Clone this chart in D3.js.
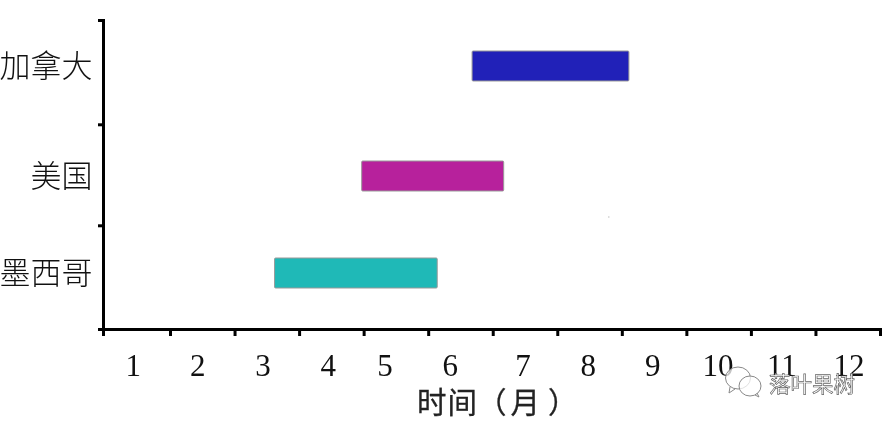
<!DOCTYPE html>
<html><head><meta charset="utf-8">
<script src="https://cdn.jsdelivr.net/npm/d3@7"></script>
<style>html,body{margin:0;padding:0;background:#fff;overflow:hidden}svg{display:block;filter:blur(0.4px)}</style>
</head><body><svg id="c" width="884" height="422"></svg>
<script>
const categories = ["墨西哥", "美国", "加拿大"];
const rowPositions = [0.54, 1.488, 2.559];
const startMonths = [2.62, 3.97, 5.68];
const endMonths = [5.14, 6.17, 8.11];
const barColors = ["#1fb9b7", "#b7219c", "#2121b8"];
const monthLabels = ["1","2","3","4","5","6","7","8","9","10","11","12"];
const monthLabelPositions = [0.45,1.43,2.44,3.45,4.33,5.34,6.47,7.48,8.48,9.49,10.48,11.52];
const monthTicks = [0,1,2,3,4,5,6,7,8,9,10,11,12];
const rowTicks = [0,1,2,3];
const xTitle = "时间（月）";
const watermark = "落叶果树";

const svg = d3.select("#c");
const x = d3.scaleLinear().domain([0,1,12]).range([103,170,880]);
const y = d3.scaleLinear().domain([0,1,2,3]).range([329,225.3,124.3,20]);
const barH = 30;
const cjk = "'Noto Sans CJK SC','Noto Sans CJK JP',sans-serif";
const serif = "'Liberation Serif',serif";
const ink = "#111";

// bars
svg.append("g").selectAll("rect").data(categories).join("rect")
  .attr("x",(d,i)=>x(startMonths[i]))
  .attr("y",(d,i)=>y(rowPositions[i])-barH/2)
  .attr("width",(d,i)=>x(endMonths[i])-x(startMonths[i]))
  .attr("height",barH)
  .attr("rx",1)
  .attr("fill",(d,i)=>barColors[i])
  .attr("stroke","#999").attr("stroke-width",1);

// axes
const gx = svg.append("g").attr("transform",`translate(0,${y(0)})`)
  .call(d3.axisBottom(x).tickValues(monthTicks).tickSize(7).tickFormat(""));
const gy = svg.append("g").attr("transform",`translate(${x(0)},0)`)
  .call(d3.axisLeft(y).tickValues(rowTicks).tickSize(5).tickFormat(""));
[gx,gy].forEach(g=>{
  g.selectAll("path").attr("stroke","#000").attr("stroke-width",3);
  g.selectAll("line").attr("stroke","#000").attr("stroke-width",3);
});

// month labels
svg.append("g").selectAll("text").data(monthLabels).join("text")
  .attr("x",(d,i)=>x(monthLabelPositions[i]))
  .attr("y",376)
  .attr("text-anchor","middle")
  .attr("font-family",serif).attr("font-size",31).attr("fill",ink)
  .text(d=>d);

// category labels
svg.append("g").selectAll("text").data(categories).join("text")
  .attr("x",92.5).attr("y",(d,i)=>y(rowPositions[i]))
  .attr("dy","0.36em")
  .attr("text-anchor","end")
  .attr("font-family",cjk).attr("font-size",31).attr("font-weight",300).attr("fill",ink)
  .text(d=>d);

// axis title (single text; dx only widens the gaps round the parentheses)
svg.append("text").attr("x",417).attr("y",413)
  .attr("dx","0 1 0 4 8")
  .attr("font-family",cjk).attr("font-size",29.5).attr("font-weight",400).attr("fill","#222")
  .attr("stroke","#222").attr("stroke-width",0.3)
  .text(xTitle);

// stray speck in the source
svg.append("rect").attr("x",608).attr("y",216.5).attr("width",1.5).attr("height",1).attr("fill","#bbb");

// watermark
const wm = svg.append("g").attr("fill","rgba(255,255,255,0.75)").attr("stroke","#888").attr("stroke-width",1);
wm.append("ellipse").attr("cx",738).attr("cy",378).attr("rx",12.5).attr("ry",11);
wm.append("ellipse").attr("cx",750).attr("cy",386).attr("rx",11).attr("ry",10);
wm.append("path").attr("d","M730 387 L729 393 L735 389").attr("fill","none");
wm.append("path").attr("d","M755 395 L759 397 L757 393").attr("fill","none");
svg.append("text").attr("x",769).attr("y",392)
  .attr("font-family",cjk).attr("font-size",21.5).attr("fill","#fff")
  .attr("stroke","#666").attr("stroke-width",0.7)
  .text(watermark);
</script></body></html>
